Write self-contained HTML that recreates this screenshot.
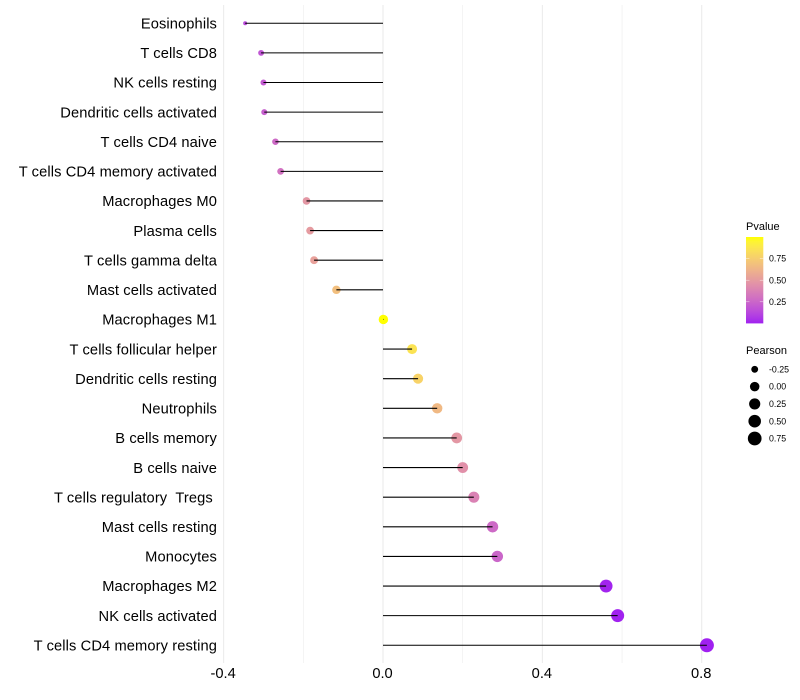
<!DOCTYPE html>
<html lang="en">
<head>
<meta charset="utf-8">
<title>Pearson lollipop chart</title>
<style>
html,body{margin:0;padding:0;background:#fff;}
svg{display:block;font-family:"Liberation Sans",Arial,sans-serif;}
</style>
</head>
<body>
<svg id="chart" width="800" height="700" viewBox="0 0 800 700"></svg>
<script>
const categories = ["Eosinophils","T cells CD8","NK cells resting","Dendritic cells activated","T cells CD4 naive","T cells CD4 memory activated","Macrophages M0","Plasma cells","T cells gamma delta","Mast cells activated","Macrophages M1","T cells follicular helper","Dendritic cells resting","Neutrophils","B cells memory","B cells naive","T cells regulatory  Tregs ","Mast cells resting","Monocytes","Macrophages M2","NK cells activated","T cells CD4 memory resting"];
const pearson = [-0.346,-0.306,-0.300,-0.298,-0.270,-0.257,-0.192,-0.183,-0.173,-0.117,0.001,0.073,0.088,0.136,0.185,0.200,0.228,0.275,0.287,0.560,0.589,0.813];
const pvalue = [0.14,0.18,0.20,0.22,0.27,0.30,0.48,0.50,0.53,0.68,1.00,0.86,0.78,0.65,0.48,0.45,0.38,0.27,0.25,0.01,0.005,0.001];
const xTicks = [-0.4,0,0.4,0.8];
const xMinorTicks = [-0.2,0.2,0.6];
const xTickLabels = ["-0.4","0.0","0.4","0.8"];
const pvalueTicks = [0.25,0.5,0.75];
const pvalueTickLabels = ["0.25","0.50","0.75"];
const pearsonBreaks = [-0.25,0,0.25,0.5,0.75];
const pearsonBreakLabels = ["-0.25","0.00","0.25","0.50","0.75"];

const NS = "http://www.w3.org/2000/svg";
const svg = document.getElementById("chart");
function mk(tag, attrs, parent, text){
  const el = document.createElementNS(NS, tag);
  for(const k in attrs) el.setAttribute(k, attrs[k]);
  if(text !== undefined) el.textContent = text;
  (parent || svg).appendChild(el);
  return el;
}
const xScale = v => 383 + 398.4 * v;
const yScale = i => 23.25 + 29.62 * i;
const minR = Math.min(...pearson), maxR = Math.max(...pearson);
const diameter = v => 4 + 10 * Math.sqrt(Math.max(0, (v - minR) / (maxR - minR)));

function srgb2lin(c){c/=255;return c<=0.04045?c/12.92:Math.pow((c+0.055)/1.055,2.4);}
function lin2srgb(c){c=Math.max(0,Math.min(1,c));return Math.round(255*(c<=0.0031308?12.92*c:1.055*Math.pow(c,1/2.4)-0.055));}
function toLab(r,g,b){
  r=srgb2lin(r);g=srgb2lin(g);b=srgb2lin(b);
  const X=(0.4124564*r+0.3575761*g+0.1804375*b)/0.95047,
        Y=0.2126729*r+0.7151522*g+0.0721750*b,
        Z=(0.0193339*r+0.1191920*g+0.9503041*b)/1.08883;
  const f=t=>t>0.008856?Math.cbrt(t):7.787*t+16/116;
  return [116*f(Y)-16,500*(f(X)-f(Y)),200*(f(Y)-f(Z))];
}
function fromLab(L,a,b){
  const fy=(L+16)/116,fx=fy+a/500,fz=fy-b/200;
  const g=t=>t*t*t>0.008856?t*t*t:(t-16/116)/7.787;
  const X=g(fx)*0.95047,Y=g(fy),Z=g(fz)*1.08883;
  const r=3.2404542*X-1.5371385*Y-0.4985314*Z,
        gg=-0.9692660*X+1.8760108*Y+0.0415560*Z,
        bb=0.0556434*X-0.2040259*Y+1.0572252*Z;
  return "rgb("+lin2srgb(r)+","+lin2srgb(gg)+","+lin2srgb(bb)+")";
}
const labLow = toLab(160,32,240), labHigh = toLab(255,255,0);
const pColor = p => fromLab(labLow[0]+(labHigh[0]-labLow[0])*p, labLow[1]+(labHigh[1]-labLow[1])*p, labLow[2]+(labHigh[2]-labLow[2])*p);

/* gridlines */
const gridGroup = mk("g", {});


xMinorTicks.forEach(v => {
  const l = mk("line", {x1:xScale(v),x2:xScale(v),y1:5,y2:663,stroke:"#ebebeb","stroke-width":0.55}, gridGroup);
  
  
});
xTicks.forEach(v => {
  const l = mk("line", {x1:xScale(v),x2:xScale(v),y1:5,y2:663,stroke:"#ebebeb","stroke-width":1.07}, gridGroup);
  
  
});

/* category labels */
const yAxis = mk("g", {"font-size":14.67,fill:"#000","text-anchor":"end","letter-spacing":0.11});


categories.forEach((c,i) => {
  const t = mk("text", {x:217,y:yScale(i)+5.2,style:"white-space:pre"}, yAxis, c);
  
  
});

/* x axis labels */
const xAxis = mk("g", {"font-size":14.67,fill:"#000","text-anchor":"middle"});


xTicks.forEach((v,i) => {
  const t = mk("text", {x:xScale(v)-0.5,y:678},xAxis, xTickLabels[i]);
  
  
});

/* lollipops */
const marks = mk("g", {});


pearson.forEach((v,i) => {
  const dot = mk("circle", {cx:xScale(v),cy:yScale(i),r:diameter(v)/2,fill:pColor(pvalue[i])}, marks);
  
  
});
pearson.forEach((v,i) => {
  const seg = mk("line", {x1:xScale(0),x2:xScale(v),y1:yScale(i),y2:yScale(i),stroke:"#000","stroke-width":1.07}, marks);
  
  
});

/* Pvalue legend */
const defs = mk("defs", {});
const grad = mk("linearGradient", {id:"pvalue-gradient",x1:0,y1:1,x2:0,y2:0}, defs);
for(let s=0;s<=20;s++){
  mk("stop", {offset:s/20,"stop-color":pColor(s/20)}, grad);
}
const legP = mk("g", {});


const pTitle = mk("text", {x:746,y:230,"font-size":11,fill:"#000"}, legP, "Pvalue");


const barTop = 237, barBottom = 323.4, barX = 746, barW = 17.3;
const pScale = p => barBottom - (barBottom - barTop) * p;
const bar = mk("rect", {x:barX,y:barTop,width:barW,height:barBottom-barTop,fill:"url(#pvalue-gradient)"}, legP);


pvalueTicks.forEach((p,i) => {
  mk("line", {x1:barX,x2:barX+3.45,y1:pScale(p),y2:pScale(p),stroke:"#fff","stroke-width":0.5,opacity:0.8}, legP);
  mk("line", {x1:barX+barW-3.45,x2:barX+barW,y1:pScale(p),y2:pScale(p),stroke:"#fff","stroke-width":0.5,opacity:0.8}, legP);
  const t = mk("text", {x:769,y:pScale(p)+3.1,"font-size":8.8,fill:"#000"}, legP, pvalueTickLabels[i]);
  
  
});

/* Pearson legend */
const legS = mk("g", {});


const sTitle = mk("text", {x:746,y:354,"font-size":11,fill:"#000"}, legS, "Pearson");


pearsonBreaks.forEach((b,i) => {
  const cy = 369.3 + 17.3 * i;
  const c = mk("circle", {cx:754.7,cy:cy,r:diameter(b)/2,fill:"#000"}, legS);
  
  
  const t = mk("text", {x:769,y:cy+3.1,"font-size":8.8,fill:"#000"}, legS, pearsonBreakLabels[i]);
  
  
});
</script>
</body>
</html>
